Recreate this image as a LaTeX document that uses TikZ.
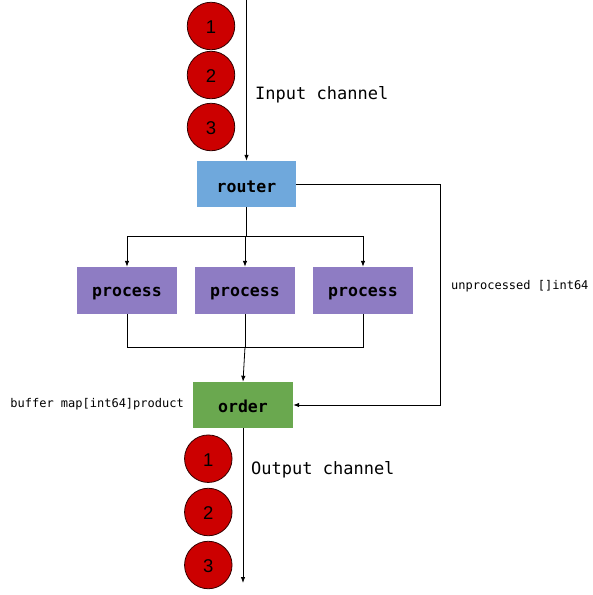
\documentclass[tikz,border=0pt]{standalone}
\usepackage{fontspec}
\setmonofont{DejaVu Sans Mono}
\newfontfamily\numfont{Liberation Sans}
\usetikzlibrary{arrows.meta}
\definecolor{ballred}{HTML}{CC0000}
\definecolor{routerblue}{HTML}{6FA8DC}
\definecolor{procpurple}{HTML}{8E7CC3}
\definecolor{ordergreen}{HTML}{6AA84F}
\tikzset{
  ball/.style={circle, fill=ballred, draw=black!75!ballred, line width=0.8pt, minimum size=47.5pt, inner sep=0pt, text height=15.9pt, text depth=0pt, font=\numfont\fontsize{18.5}{18.5}\selectfont},
  stagebox/.style={rectangle, minimum width=100pt, minimum height=47pt, inner sep=0pt, text depth=0pt, font=\ttfamily\bfseries\fontsize{16.5}{16.5}\selectfont},
  biglabel/.style={inner sep=0pt, anchor=west, font=\ttfamily\fontsize{17}{17}\selectfont},
  smalllabel/.style={inner sep=0pt, font=\ttfamily\fontsize{12}{12}\selectfont},
  conn/.style={draw=black, line width=0.8pt},
  arr/.style={conn, -{Latex[length=6pt,width=4.5pt]}},
}
\begin{document}
\begin{tikzpicture}[x=1pt,y=-1pt]
\useasboundingbox (0,0) rectangle (593,595);
% input balls
\node[ball] (i1) at (211,26) {1};
\node[ball] (i2) at (211,75) {2};
\node[ball] (i3) at (211,127) {3};
% boxes
\node[stagebox, fill=routerblue, minimum width=99pt, minimum height=46pt, text height=17.4pt] (router) at (246.5,184) {router};
\node[stagebox, fill=procpurple, text height=12pt] (p1) at (127,290.5) {process};
\node[stagebox, fill=procpurple, text height=12pt] (p2) at (245,290.5) {process};
\node[stagebox, fill=procpurple, text height=12pt] (p3) at (363,290.5) {process};
\node[stagebox, fill=ordergreen, minimum height=46pt, text height=14.6pt] (order) at (243,405) {order};
% output balls
\node[ball] (o1) at (208.3,458.7) {1};
\node[ball] (o2) at (208.3,512) {2};
\node[ball] (o3) at (208.3,565) {3};
% coordinates
\coordinate (instart) at (246.5,0);
\coordinate (split) at (246.5,236);
\coordinate (splitL) at (127,236);
\coordinate (splitM) at (245,236);
\coordinate (splitR) at (363,236);
\coordinate (joinL) at (127,347);
\coordinate (joinM) at (245,347);
\coordinate (joinR) at (363,347);
\coordinate (fbtop) at (440,184);
\coordinate (fbbot) at (440,405);
\coordinate (outend) at (243,583);
% connectors
\draw[arr] (instart) -- (router.north);
\draw[conn] (router.south) -- (split);
\draw[conn] (splitL) -- (splitR);
\draw[arr] (splitL) -- (p1.north);
\draw[arr] (splitM) -- (p2.north);
\draw[arr] (splitR) -- (p3.north);
\draw[conn] (p1.south) -- (joinL) -- (joinR) -- (p3.south);
\draw[conn] (p2.south) -- (joinM);
\draw[arr] (joinM) -- (order.north);
\draw[arr] (router.east) -- (fbtop) -- (fbbot) -- (order.east);
\draw[arr] (order.south) -- (outend);
% labels
\node[biglabel] (inlab) at (255,94.5) {Input channel};
\node[biglabel] (outlab) at (251,469.5) {Output channel};
\node[smalllabel, anchor=west] (unproc) at (451,286) {unprocessed []int64};
\node[smalllabel, anchor=east] (buf) at (184,404) {buffer map[int64]product};
\end{tikzpicture}
\end{document}
